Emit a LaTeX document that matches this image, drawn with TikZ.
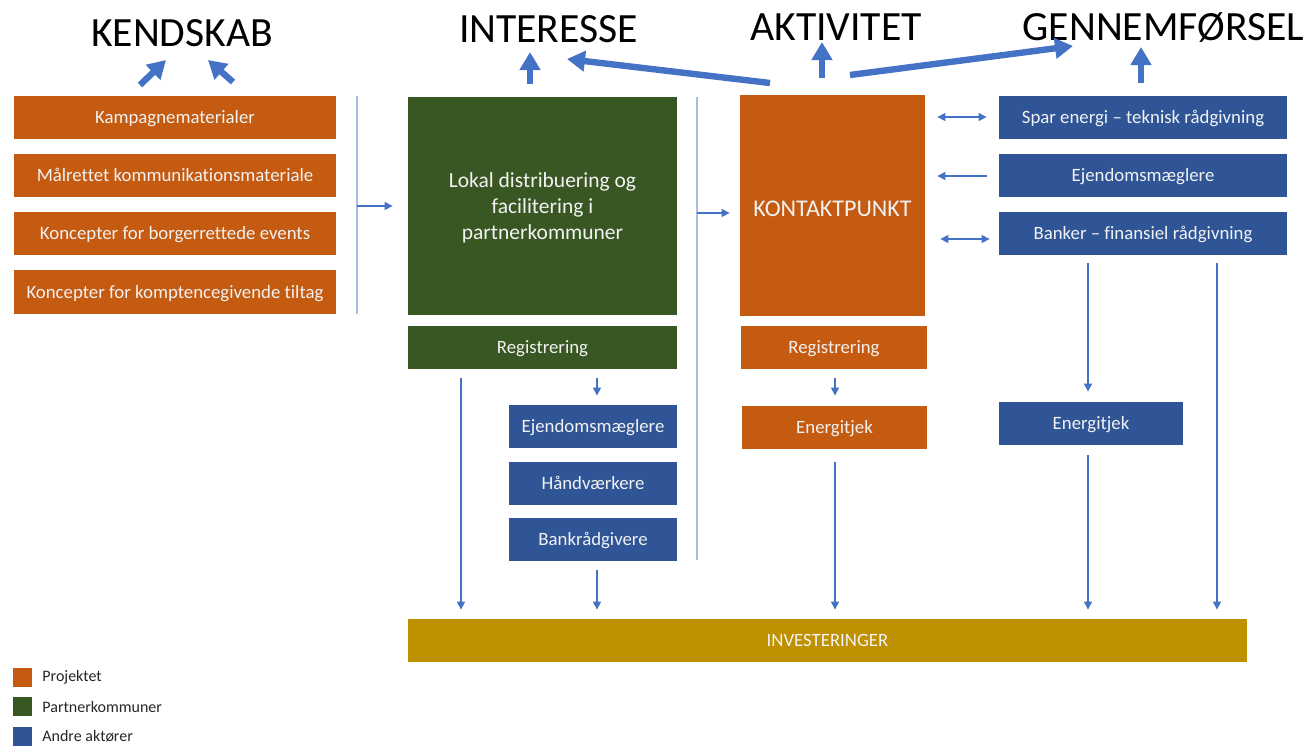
\documentclass[tikz,border=0pt]{standalone}
\usepackage{fontspec}
\setmainfont{Carlito}[Ligatures={NoCommon}]
\usetikzlibrary{arrows.meta}
\definecolor{projO}{HTML}{C55A11}
\definecolor{partG}{HTML}{385723}
\definecolor{andB}{HTML}{2F5597}
\definecolor{invY}{HTML}{BF9000}
\definecolor{arrB}{HTML}{4472C4}
\definecolor{sepB}{HTML}{A9BDE3}
\definecolor{boxT}{HTML}{F2F2F2}
\begin{document}
\begin{tikzpicture}[x=0.5pt,y=-0.5pt,
  box/.style={rectangle, inner sep=0pt, text=boxT, align=center, font=\fontsize{9.4}{11.5}\selectfont, text height=0.82em, text depth=0.18em},
  bigbox/.style={rectangle, inner sep=0pt, text=boxT, align=center},
  obox/.style={box, fill=projO},
  gbox/.style={box, fill=partG},
  bbox/.style={box, fill=andB},
  head/.style={font=\fontsize{20.8}{24}\selectfont, text=black, inner sep=0pt, anchor=base},
  bigarrow/.style={arrB, line width=3.2pt, -{Triangle[length=9pt,width=10pt]}},
  thinarrow/.style={arrB, line width=0.6pt, -{Triangle[length=4pt,width=4pt]}},
  bothway/.style={arrB, line width=0.6pt, {Triangle[length=4pt,width=4pt]}-{Triangle[length=4pt,width=4pt]}},
  sepline/.style={sepB, line width=0.6pt},
  legsq/.style={rectangle, inner sep=0pt, minimum width=9.5pt, minimum height=9.5pt},
  legtxt/.style={anchor=west, inner sep=0pt, text=black!85, font=\fontsize{8}{10}\selectfont}
]
\useasboundingbox (0,0) rectangle (1312,745);

% headings
\node[head] (kend) at (182,46) {KENDSKAB};
\node[head] (inter) at (548.5,42) {INTERESSE};
\node[head] (akt) at (836,40) {AKTIVITET};
\node[head] (genn) at (1163.5,40) {GENNEMFØRSEL};

% left column
\node[obox, minimum width=161pt, minimum height=21.5pt] (k1) at (175,117.5) {Kampagnematerialer};
\node[obox, minimum width=161pt, minimum height=21.5pt] (k2) at (175,175.5) {Målrettet kommunikationsmateriale};
\node[obox, minimum width=161pt, minimum height=21.5pt] (k3) at (175,233.5) {Koncepter for borgerrettede events};
\node[obox, minimum width=161pt, minimum height=22pt] (k4) at (175,292) {Koncepter for komptencegivende tiltag};

% green column
\node[bigbox, fill=partG, minimum width=134.5pt, minimum height=109pt, font=\fontsize{10.75}{13}\selectfont] (gbig) at (542.5,206) {\raisebox{-1.3pt}[\height][\depth]{\begin{tabular}{@{}c@{}}Lokal distribuering og\\facilitering i\\partnerkommuner\end{tabular}}};
\node[gbox, minimum width=134.5pt, minimum height=21.5pt] (greg) at (542.5,347.5) {Registrering};
\node[bbox, minimum width=84pt, minimum height=21.5pt] (gej) at (593,426.5) {Ejendomsmæglere};
\node[bbox, minimum width=84pt, minimum height=21.5pt] (ghaand) at (593,483.5) {Håndværkere};
\node[bbox, minimum width=84pt, minimum height=21.5pt] (gbank) at (593,539.5) {Bankrådgivere};

% orange column
\node[bigbox, fill=projO, minimum width=92.5pt, minimum height=110.5pt, font=\fontsize{12}{14}\selectfont] (kp) at (832.5,205.5) {\raisebox{-1.6pt}[\height][\depth]{KONTAKTPUNKT}};
\node[obox, minimum width=93pt, minimum height=21.5pt] (oreg) at (834,347.5) {Registrering};
\node[obox, minimum width=92.5pt, minimum height=21.5pt] (oen) at (834.5,427.5) {Energitjek};

% right column
\node[bbox, minimum width=144pt, minimum height=21.5pt] (spar) at (1143,117.5) {Spar energi – teknisk rådgivning};
\node[bbox, minimum width=144pt, minimum height=21.5pt] (rej) at (1143,175.5) {Ejendomsmæglere};
\node[bbox, minimum width=144pt, minimum height=21.5pt] (rbank) at (1143,233.5) {Banker – finansiel rådgivning};
\node[bbox, minimum width=92pt, minimum height=21.5pt] (ren) at (1091,423.5) {Energitjek};

% investeringer
\node[box, fill=invY, minimum width=419.5pt, minimum height=21.5pt] (inv) at (827.5,640.5) {INVESTERINGER};

% legend
\node[legsq, fill=projO] (l1) at (22.5,677) {};
\node[legsq, fill=partG] (l2) at (22.5,706.5) {};
\node[legsq, fill=andB] (l3) at (22.5,736) {};
\node[legtxt] (t1) at (42,677) {Projektet};
\node[legtxt] (t2) at (42,706.5) {Partnerkommuner};
\node[legtxt] (t3) at (42,736) {Andre aktører};

% separators
\coordinate (s1t) at (357,96);
\coordinate (s1b) at (357,314);
\coordinate (s1m) at (357,206);
\draw[sepline] (s1t) -- (s1b);
\draw[thinarrow, shorten >=7.5pt] (s1m) -- (gbig.west |- s1m);
\coordinate (s2t) at (697,97);
\coordinate (s2b) at (697,560);
\coordinate (s2m) at (697,213);
\draw[sepline] (s2t) -- (s2b);
\draw[thinarrow, shorten >=5pt] (s2m) -- (kp.west |- s2m);

% column coordinates
\coordinate (c461) at (461,0);
\coordinate (c597) at (597,0);
\coordinate (c835) at (835,0);
\coordinate (c1088) at (1088,0);
\coordinate (c1217) at (1217,0);
\coordinate (r117) at (0,117);
\coordinate (r176) at (0,176);
\coordinate (r239) at (0,239);

% vertical thin arrows
\draw[thinarrow, shorten <=4.5pt, shorten >=4.5pt] (greg.south -| c461) -- (inv.north -| c461);
\draw[thinarrow, shorten <=4.5pt, shorten >=4.5pt] (greg.south -| c597) -- (gej.north -| c597);
\draw[thinarrow, shorten <=4.5pt, shorten >=4.5pt] (gbank.south -| c597) -- (inv.north -| c597);
\draw[thinarrow, shorten <=4.5pt, shorten >=5pt] (oreg.south -| c835) -- (oen.north -| c835);
\draw[thinarrow, shorten <=6.5pt, shorten >=4.5pt] (oen.south -| c835) -- (inv.north -| c835);
\draw[thinarrow, shorten <=4pt, shorten >=5pt] (rbank.south -| c1088) -- (ren.north -| c1088);
\draw[thinarrow, shorten <=5pt, shorten >=4.5pt] (ren.south -| c1088) -- (inv.north -| c1088);
\draw[thinarrow, shorten <=4pt, shorten >=4.5pt] (rbank.south -| c1217) -- (inv.north -| c1217);

% horizontal arrows to contact point
\draw[bothway, shorten <=6pt, shorten >=6pt] (kp.east |- r117) -- (spar.west |- r117);
\draw[thinarrow, shorten <=6pt, shorten >=6pt] (rej.west |- r176) -- (kp.east |- r176);
\draw[bothway, shorten <=7.5pt, shorten >=4.5pt] (kp.east |- r239) -- (rbank.west |- r239);

% big arrows
\coordinate (a1s) at (140,85);  \coordinate (a1e) at (166,60);
\coordinate (a2s) at (233,82);  \coordinate (a2e) at (208,60);
\coordinate (a3s) at (530,84);  \coordinate (a3e) at (530,52);
\coordinate (a4s) at (770,83);  \coordinate (a4e) at (567,59);
\coordinate (a5s) at (822,78);  \coordinate (a5e) at (822,42);
\coordinate (a6s) at (850,75);  \coordinate (a6e) at (1073,46);
\coordinate (a7s) at (1141,83); \coordinate (a7e) at (1141,47);
\draw[bigarrow] (a1s) -- (a1e);
\draw[bigarrow] (a2s) -- (a2e);
\draw[bigarrow] (a3s) -- (a3e);
\draw[bigarrow] (a4s) -- (a4e);
\draw[bigarrow] (a5s) -- (a5e);
\draw[bigarrow] (a6s) -- (a6e);
\draw[bigarrow] (a7s) -- (a7e);
\end{tikzpicture}
\end{document}
